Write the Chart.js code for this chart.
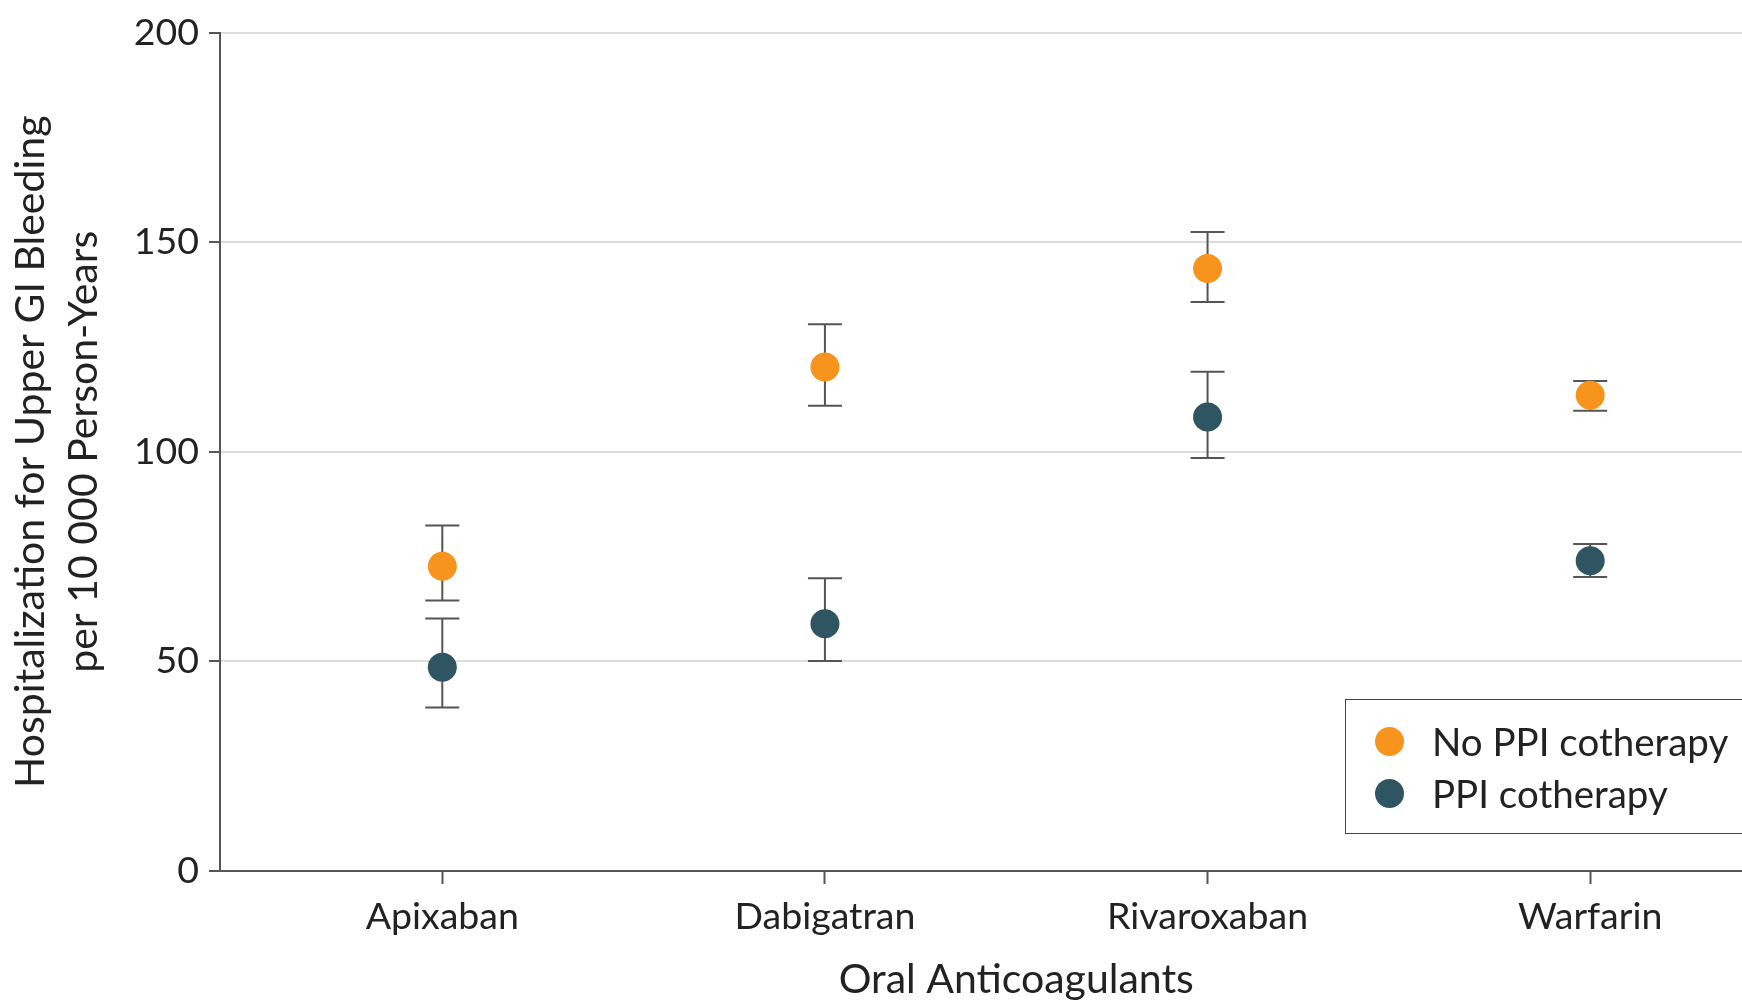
<!DOCTYPE html>
<html>
<head>
<meta charset="utf-8">
<title>Upper GI bleeding by anticoagulant</title>
<script src="https://cdn.jsdelivr.net/npm/chart.js@4.4.1/dist/chart.umd.min.js"></script>
<style>
  html, body { margin: 0; padding: 0; background: #fff; overflow: hidden; }
  #wrap { position: relative; width: 1827px; height: 1004px; }
  #legend {
    position: absolute; left: 1345px; top: 699px; width: 460px; height: 135px;
    border: 1.5px solid #444; box-sizing: border-box;
    font-family: Lato, "Open Sans", sans-serif; font-size: 38.5px; color: #222;
  }
  .row { position: absolute; left: 0; height: 40px; display: flex; align-items: center; }
  .dot { width: 29px; height: 29px; border-radius: 50%; margin-left: 29px; margin-right: 28px; }
</style>
</head>
<body>
<div id="wrap">
  <canvas id="chart" width="1827" height="1004"></canvas>
  <div id="legend"></div>
</div>
<script>
// categories and rates per 10 000 person-years
const drugs = ["Apixaban", "Dabigatran", "Rivaroxaban", "Warfarin"];
const yTicks = [0, 50, 100, 150, 200];

const noPpiRate = [72.7, 120.2, 143.7, 113.5];
const noPpiLow  = [64.5, 111.0, 135.7, 109.8];
const noPpiHigh = [82.4, 130.4, 152.4, 116.9];

const ppiRate = [48.6, 59.0, 108.3, 74.0];
const ppiLow  = [39.0, 50.1, 98.5, 70.1];
const ppiHigh = [60.2, 69.8, 119.1, 78.0];

const orange = "#F7941D";
const teal = "#2F5562";
const fontFamily = "Lato, 'Open Sans', sans-serif";

function points(vals, low, high) {
  return vals.map((v, i) => ({ x: i, y: v, low: low[i], high: high[i] }));
}

// whiskers drawn under the dots
const errorBars = {
  id: "errorBars",
  beforeDatasetsDraw(chart) {
    const ctx = chart.ctx;
    const xs = chart.scales.x;
    const ys = chart.scales.y;
    ctx.save();
    ctx.strokeStyle = "#555";
    ctx.lineWidth = 2;
    chart.data.datasets.forEach(ds => {
      ds.data.forEach(p => {
        const x = xs.getPixelForValue(p.x);
        const top = ys.getPixelForValue(p.high);
        const bot = ys.getPixelForValue(p.low);
        ctx.beginPath();
        ctx.moveTo(x, top); ctx.lineTo(x, bot);
        ctx.moveTo(x - 17, top); ctx.lineTo(x + 17, top);
        ctx.moveTo(x - 17, bot); ctx.lineTo(x + 17, bot);
        ctx.stroke();
      });
    });
    ctx.restore();
  }
};

const chart = new Chart(document.getElementById("chart"), {
  type: "scatter",
  data: {
    datasets: [
      {
        label: "No PPI cotherapy",
        data: points(noPpiRate, noPpiLow, noPpiHigh),
        backgroundColor: orange,
        borderWidth: 0,
        pointRadius: 14.5,
        pointHoverRadius: 14.5
      },
      {
        label: "PPI cotherapy",
        data: points(ppiRate, ppiLow, ppiHigh),
        backgroundColor: teal,
        borderWidth: 0,
        pointRadius: 14.5,
        pointHoverRadius: 14.5
      }
    ]
  },
  options: {
    responsive: false,
    animation: false,
    layout: { padding: { top: 31, left: 0, right: 0, bottom: 0 } },
    plugins: {
      legend: { display: false },
      tooltip: { enabled: false }
    },
    scales: {
      x: {
        type: "linear",
        min: -0.581,
        max: 3.581,
        afterBuildTicks: s => { s.ticks = drugs.map((d, i) => ({ value: i })); },
        afterFit: s => { s.height = 133; },
        ticks: {
          callback: v => drugs[v],
          color: "#222",
          padding: 10,
          font: { family: fontFamily, size: 37.5 },
          maxRotation: 0
        },
        grid: { drawOnChartArea: false, tickLength: 13, tickColor: "#555", tickWidth: 2 },
        border: { color: "#555", width: 2 },
        title: {
          display: true,
          text: "Oral Anticoagulants",
          color: "#222",
          font: { family: fontFamily, size: 41 },
          padding: { top: 5, bottom: 0 }
        }
      },
      y: {
        min: 0,
        max: 200,
        afterBuildTicks: s => { s.ticks = yTicks.map(v => ({ value: v })); },
        afterFit: s => { s.width = 220; },
        ticks: {
          color: "#222",
          padding: 10,
          font: { family: fontFamily, size: 37.5 }
        },
        grid: { color: "#dcdcdc", lineWidth: 2, tickLength: 11, tickColor: "#555", tickWidth: 2 },
        border: { color: "#555", width: 2 },
        title: {
          display: true,
          text: ["Hospitalization for Upper GI Bleeding", "per 10 000 Person-Years"],
          color: "#222",
          font: { family: fontFamily, size: 41, lineHeight: 1.3 },
          padding: { top: 4, bottom: 2 }
        }
      }
    }
  },
  plugins: [errorBars]
});

// boxed key in the lower right
const legend = document.getElementById("legend");
chart.data.datasets.forEach((ds, i) => {
  const row = document.createElement("div");
  row.className = "row";
  row.style.top = (21 + i * 52) + "px";
  row.innerHTML = `<span class="dot" style="background:${ds.backgroundColor}"></span><span>${ds.label}</span>`;
  legend.appendChild(row);
});
</script>
</body>
</html>
